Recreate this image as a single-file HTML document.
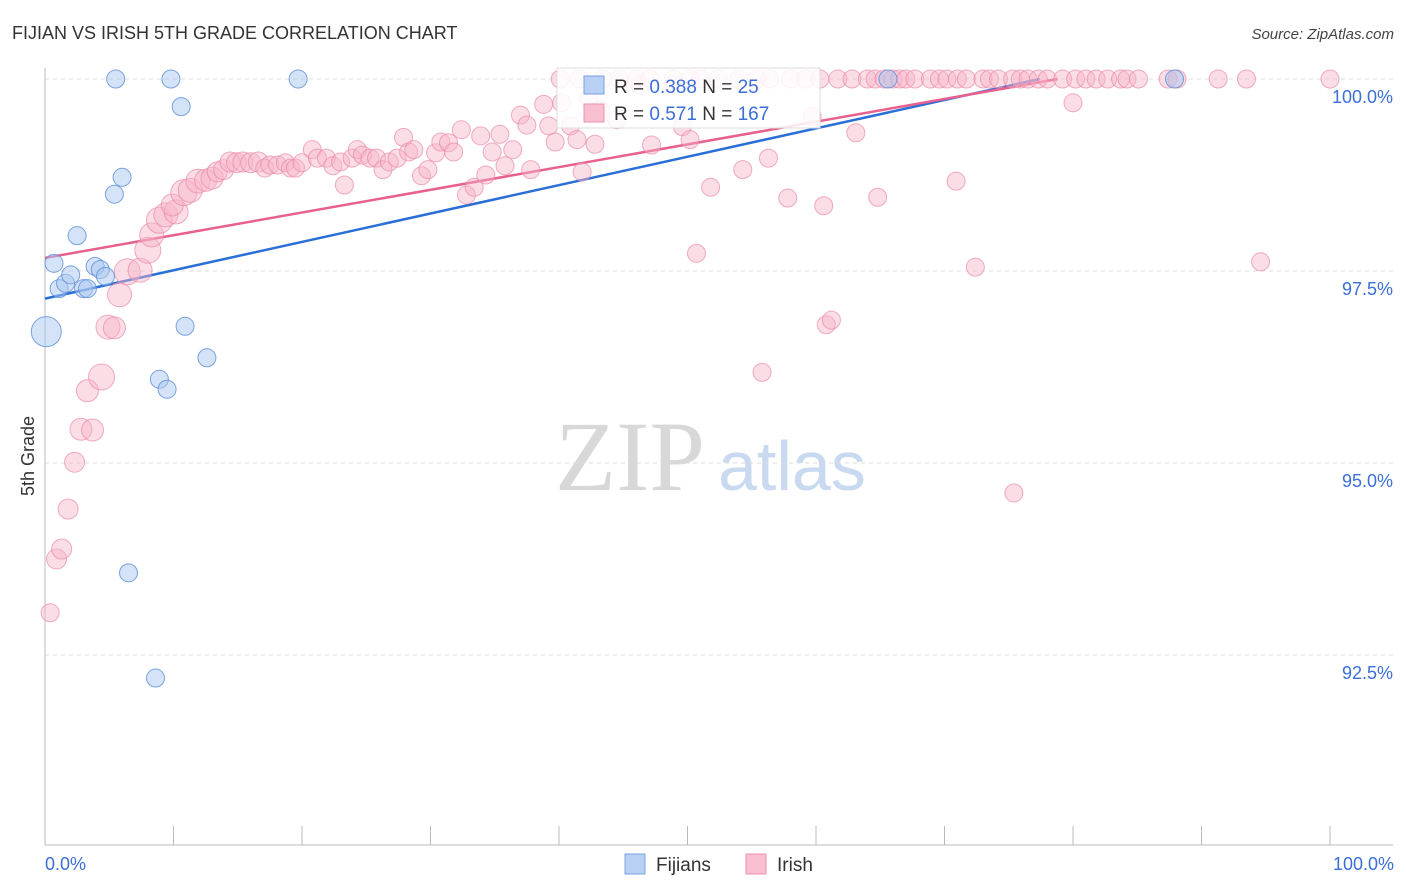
<!DOCTYPE html>
<html><head><meta charset="utf-8"><style>
body{margin:0;background:#fff;font-family:"Liberation Sans",sans-serif}
svg{display:block}
</style></head><body>
<svg id="chart" width="1406" height="892" xmlns="http://www.w3.org/2000/svg">
<text x="12" y="39" font-size="18" fill="#333" font-family="Liberation Sans, sans-serif">FIJIAN VS IRISH 5TH GRADE CORRELATION CHART</text>
<text x="1394" y="39" font-size="15" fill="#444" text-anchor="end" font-style="italic">Source: ZipAtlas.com</text>
<g>
<text x="555" y="490" font-size="100" fill="#d8d8d8" font-family="Liberation Serif, serif">ZIP</text>
<text x="718" y="490" font-size="70" fill="#c9d9ef">atlas</text>
</g>
<g id="grid"></g>
<g id="lines"></g>
<g id="pts"></g>
<text transform="translate(34,456) rotate(-90)" font-size="18" fill="#333" text-anchor="middle">5th Grade</text>
<text x="45" y="870" font-size="18" fill="#3a6fd8">0.0%</text>
<text x="1394" y="870" font-size="18" fill="#3a6fd8" text-anchor="end">100.0%</text>
<g>
<rect x="557" y="68" width="263" height="60" fill="#fff" fill-opacity="0.85" stroke="#ddd"/>
<rect x="584" y="76" width="20" height="18" fill="#b8d0f4" stroke="#7aa2e0"/>
<rect x="584" y="104" width="20" height="18" fill="#f8bfd0" stroke="#ec93b0"/>
<text x="614" y="93" font-size="19" fill="#333">R = <tspan fill="#3a6fd8">0.388</tspan>   N =  <tspan fill="#3a6fd8">25</tspan></text>
<text x="614" y="120" font-size="19" fill="#333">R =  <tspan fill="#3a6fd8">0.571</tspan>   N = <tspan fill="#3a6fd8">167</tspan></text>
</g>
<g>
<rect x="625" y="854" width="20" height="20" fill="#b8d0f4" stroke="#7aa2e0"/>
<text x="656" y="871" font-size="19" fill="#333">Fijians</text>
<rect x="746" y="854" width="20" height="20" fill="#f8bfd0" stroke="#ec93b0"/>
<text x="777" y="871" font-size="19" fill="#333">Irish</text>
</g>
</svg>
<script>
const yTicks=[100,97.5,95,92.5];
const yTickLabels=["100.0%","97.5%","95.0%","92.5%"];
const xTicks=[0,10,20,30,40,50,60,70,80,90,100];
const fijianX=[5.5,9.8,19.7,10.6,6.0,5.4,2.5,0.7,1.1,1.6,2.0,3.9,4.3,4.7,3.0,3.3,0.1,10.9,12.6,8.9,9.5,6.5,8.6,65.6,87.9];
const fijianY=[100,100,100,99.64,98.72,98.50,97.96,97.60,97.27,97.34,97.45,97.56,97.52,97.43,97.27,97.27,96.71,96.78,96.37,96.09,95.96,93.57,92.20,100,100];
const fijianR=[9,9,9,9,9,9,9,9,9,9,9,9,9,9,9,9,15,9,9,9,9,9,9,9,9];
const irishX=[0.4,0.9,1.3,1.8,2.3,2.8,3.7,3.3,4.4,4.9,5.4,5.8,6.4,7.4,8.0,8.3,8.9,9.4,10.2,9.9,10.8,11.3,11.9,12.5,13.0,13.4,13.9,14.4,14.9,15.4,16.0,16.6,17.1,17.5,18.1,18.7,19.1,19.5,20.0,20.8,21.2,21.9,22.4,23.0,23.3,23.9,24.3,24.7,25.3,25.8,26.3,26.8,27.4,27.9,28.3,28.7,29.3,29.8,30.4,30.8,31.4,31.8,32.4,32.8,33.4,33.9,34.3,34.8,35.4,35.8,36.4,37.0,37.5,37.8,38.8,39.2,39.7,40.2,40.9,41.4,41.8,42.3,42.8,43.2,44.5,46.3,47.2,48.9,49.6,50.2,50.7,51.8,54.3,56.3,55.8,57.8,59.7,60.6,60.8,61.2,63.1,64.8,70.9,72.4,75.4,80.0,94.6,
40.1,41.6,43.4,44.7,46.0,47.1,48.9,50.2,51.0,52.4,54.0,55.4,56.4,58.0,59.2,60.3,61.7,62.8,64.0,64.6,65.3,66.0,66.5,67.0,67.7,68.9,69.6,70.2,71.0,71.7,73.0,73.5,74.2,75.3,75.9,76.5,77.3,78.0,79.2,80.2,81.0,81.8,82.7,83.7,84.2,85.1,87.4,88.1,91.3,93.5,100];
const irishY=[93.05,93.75,93.88,94.40,95.01,95.44,95.43,95.94,96.12,96.77,96.76,97.19,97.49,97.51,97.77,97.97,98.16,98.23,98.27,98.36,98.52,98.55,98.67,98.68,98.71,98.79,98.82,98.92,98.91,98.92,98.91,98.92,98.84,98.88,98.88,98.91,98.84,98.84,98.91,99.08,98.97,98.97,98.87,98.92,98.62,98.97,99.08,99.01,98.97,98.97,98.82,98.92,98.97,99.24,99.05,99.08,98.74,98.82,99.04,99.18,99.17,99.05,99.34,98.49,98.59,99.26,98.75,99.05,99.28,98.87,99.08,99.53,99.40,98.82,99.67,99.39,99.18,99.69,99.39,99.21,98.79,99.75,99.15,99.60,99.47,99.92,99.14,99.92,99.38,99.21,97.73,98.59,98.82,98.97,96.18,98.45,99.51,98.35,96.80,96.86,99.30,98.46,98.67,97.55,94.61,99.69,97.62,
100,100,100,100,100,100,100,100,100,100,100,100,100,100,100,100,100,100,100,100,100,100,100,100,100,100,100,100,100,100,100,100,100,100,100,100,100,100,100,100,100,100,100,100,100,100,100,100,100,100,100];
const irishR=[9,10,10,10,10,11,11,11,13,12,11,12,13,12,13,12,13,12,12,11,13,12,12,11,11,10,10,10,10,10,10,10];
const fijianTrend=[[0,97.14],[77.4,100]];
const irishTrend=[[0,97.67],[78.8,100]];
const NS="http://www.w3.org/2000/svg";
const X=v=>45+v*12.85;
const Y=v=>79+(100-v)*76.8;
function mk(t,a,p){const e=document.createElementNS(NS,t);for(const k in a)e.setAttribute(k,a[k]);p.appendChild(e);return e;}
const grid=document.getElementById('grid');
yTicks.forEach((t,i)=>{
 const l=mk('line',{x1:45,x2:1393,y1:Y(t),y2:Y(t),stroke:'#ddd','stroke-dasharray':'4,4'},grid);
 
 
 const tx=mk('text',{x:1393,y:Y(t)+24,'font-size':18,fill:'#3a6fd8','text-anchor':'end'},grid);
 tx.textContent=yTickLabels[i];
 
 
});
const ax=mk('line',{x1:45,x2:1393,y1:845,y2:845,stroke:'#bbb'},grid);


const ay=mk('line',{x1:45,x2:45,y1:68,y2:845,stroke:'#bbb'},grid);


xTicks.forEach(t=>{
 const l=mk('line',{x1:X(t),x2:X(t),y1:826,y2:845,stroke:'#bbb'},grid);
 
 
});
const pts=document.getElementById('pts');
irishX.forEach((x,i)=>{
 const c=mk('circle',{cx:X(x),cy:Y(irishY[i]),r:irishR[i]||9,fill:'#f6b3c8','fill-opacity':0.45,stroke:'#e98aa9','stroke-opacity':0.7},pts);
 
 
});
fijianX.forEach((x,i)=>{
 const c=mk('circle',{cx:X(x),cy:Y(fijianY[i]),r:fijianR[i],fill:'#aac8f0','fill-opacity':0.5,stroke:'#5d8fd8','stroke-opacity':0.8},pts);
 
 
});
const lines=document.getElementById('lines');
const lb=mk('line',{x1:X(fijianTrend[0][0]),y1:Y(fijianTrend[0][1]),x2:X(fijianTrend[1][0]),y2:Y(fijianTrend[1][1]),stroke:'#2a6fd6','stroke-width':2.5},lines);


const lp=mk('line',{x1:X(irishTrend[0][0]),y1:Y(irishTrend[0][1]),x2:X(irishTrend[1][0]),y2:Y(irishTrend[1][1]),stroke:'#e8608e','stroke-width':2.5},lines);


</script>
</body></html>
